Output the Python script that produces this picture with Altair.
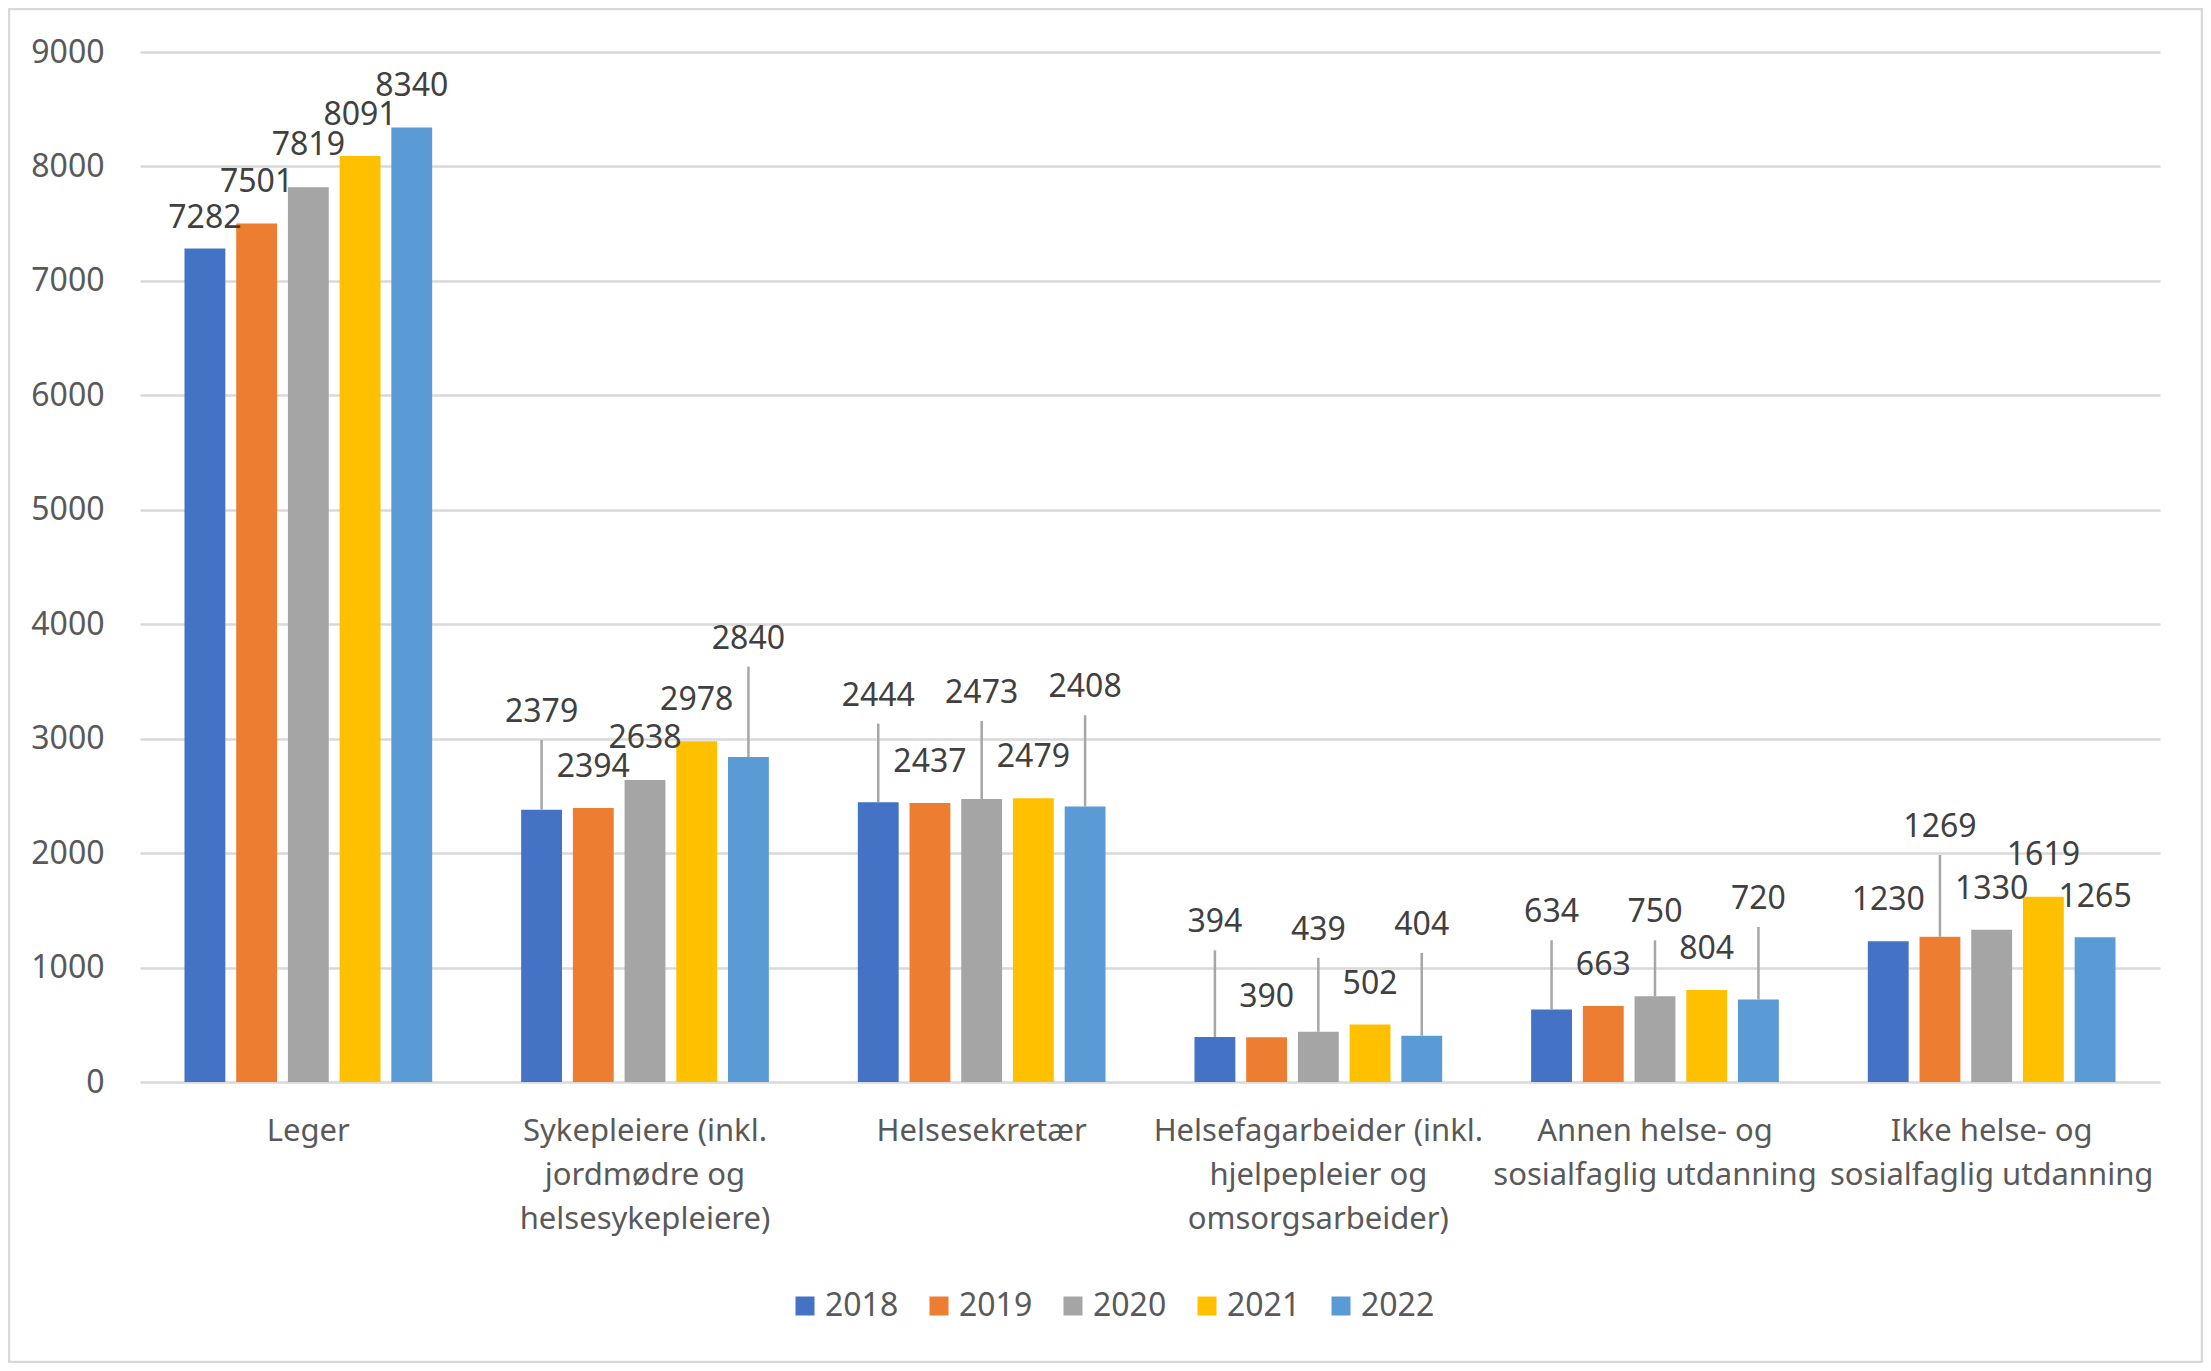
import altair as alt
import pandas as pd

categories = [
    "Leger",
    "Sykepleiere (inkl.\njordmødre og\nhelsesykepleiere)",
    "Helsesekretær",
    "Helsefagarbeider (inkl.\nhjelpepleier og\nomsorgsarbeider)",
    "Annen helse- og\nsosialfaglig utdanning",
    "Ikke helse- og\nsosialfaglig utdanning",
]
years = ["2018", "2019", "2020", "2021", "2022"]

values_2018 = [7282, 2379, 2444, 394, 634, 1230]
values_2019 = [7501, 2394, 2437, 390, 663, 1269]
values_2020 = [7819, 2638, 2473, 439, 750, 1330]
values_2021 = [8091, 2978, 2479, 502, 804, 1619]
values_2022 = [8340, 2840, 2408, 404, 720, 1265]

# where the data labels sit (in data units)
labelpos_2018 = [7550, 3233, 3376, 1395, 1483, 1588]
labelpos_2019 = [7864, 2752, 2796, 747, 1020, 2228]
labelpos_2020 = [8185, 3003, 3398, 1330, 1483, 1686]
labelpos_2021 = [8453, 3335, 2837, 860, 1162, 1981]
labelpos_2022 = [8703, 3874, 3449, 1372, 1599, 1617]

# labels that have a leader line
leader_2018 = [0, 1, 1, 1, 1, 0]
leader_2019 = [0, 0, 0, 0, 0, 1]
leader_2020 = [0, 0, 1, 1, 1, 0]
leader_2021 = [0, 0, 0, 0, 0, 0]
leader_2022 = [0, 1, 1, 1, 1, 0]

colors = ["#4472C4", "#ED7D31", "#A5A5A5", "#FFC000", "#5B9BD5"]

series = {
    "2018": (values_2018, labelpos_2018, leader_2018),
    "2019": (values_2019, labelpos_2019, leader_2019),
    "2020": (values_2020, labelpos_2020, leader_2020),
    "2021": (values_2021, labelpos_2021, leader_2021),
    "2022": (values_2022, labelpos_2022, leader_2022),
}

rows = []
for yr in years:
    v, lp, ld = series[yr]
    for i, c in enumerate(categories):
        rows.append({"cat": c, "year": yr, "value": v[i], "lab": lp[i], "leader": ld[i]})
df = pd.DataFrame(rows)

FONT = "Noto Sans"

x_enc = alt.X(
    "cat:N",
    sort=categories,
    title=None,
    scale=alt.Scale(paddingInner=0.232, paddingOuter=0.116),
    axis=alt.Axis(
        labelAngle=0,
        labelExpr="split(datum.label, '\\n')",
        labelFontSize=31,
        labelColor="#595959",
        labelLineHeight=44,
        labelPadding=34,
        labelLimit=600,
        labelOverlap=False,
        domain=False,
        ticks=False,
    ),
)
xo_enc = alt.XOffset("year:N", sort=years, scale=alt.Scale(paddingInner=0.21, paddingOuter=0.105))
yscale = alt.Scale(domain=[0, 9000], nice=False)

bars = alt.Chart(df).mark_bar().encode(
    x=x_enc,
    xOffset=xo_enc,
    y=alt.Y(
        "value:Q",
        scale=yscale,
        title=None,
        axis=alt.Axis(
            values=list(range(0, 9001, 1000)),
            format="d",
            grid=True,
            gridColor="#D9D9D9",
            gridWidth=2.5,
            domain=False,
            ticks=False,
            labelFontSize=32,
            labelColor="#595959",
            labelPadding=36,
        ),
    ),
    color=alt.Color(
        "year:N",
        sort=years,
        scale=alt.Scale(domain=years, range=colors),
        legend=alt.Legend(
            title=None,
            orient="none",
            legendX=649,
            legendY=1238,
            direction="horizontal",
            columns=5,
            symbolType="square",
            symbolSize=361,
            symbolStrokeWidth=0,
            labelFontSize=32,
            labelColor="#595959",
            labelOffset=4,
            columnPadding=24,
            padding=0,
        ),
    ),
)

leaders = (
    alt.Chart(df)
    .transform_filter("datum.leader == 1")
    .mark_rule(color="#A6A6A6", strokeWidth=2.5, y2Offset=28)
    .encode(
        x=x_enc,
        xOffset=xo_enc,
        y=alt.Y("value:Q", scale=yscale, title=None),
        y2="lab:Q",
    )
)

labels = (
    alt.Chart(df)
    .mark_text(fontSize=32, color="#404040", baseline="middle", align="center", font=FONT)
    .encode(
        x=x_enc,
        xOffset=xo_enc,
        y=alt.Y("lab:Q", scale=yscale, title=None),
        text=alt.Text("value:Q", format="d"),
    )
)

border = (
    alt.Chart(pd.DataFrame({"a": [0]}))
    .mark_rect(fillOpacity=0, stroke="#D9D9D9", strokeWidth=2.5)
    .encode(x=alt.value(-131), x2=alt.value(2062), y=alt.value(-43), y2=alt.value(1310))
)

chart = (
    alt.layer(border, bars, leaders, labels)
    .properties(
        width=2020,
        height=1030,
        autosize=alt.AutoSizeParams(type="none"),
        padding={"left": 132, "top": 44, "right": 43, "bottom": 281},
        background="white",
    )
    .configure(font=FONT)
    .configure_view(stroke=None)
)

chart.save("out.html", embed_options={"renderer": "svg", "actions": False})
